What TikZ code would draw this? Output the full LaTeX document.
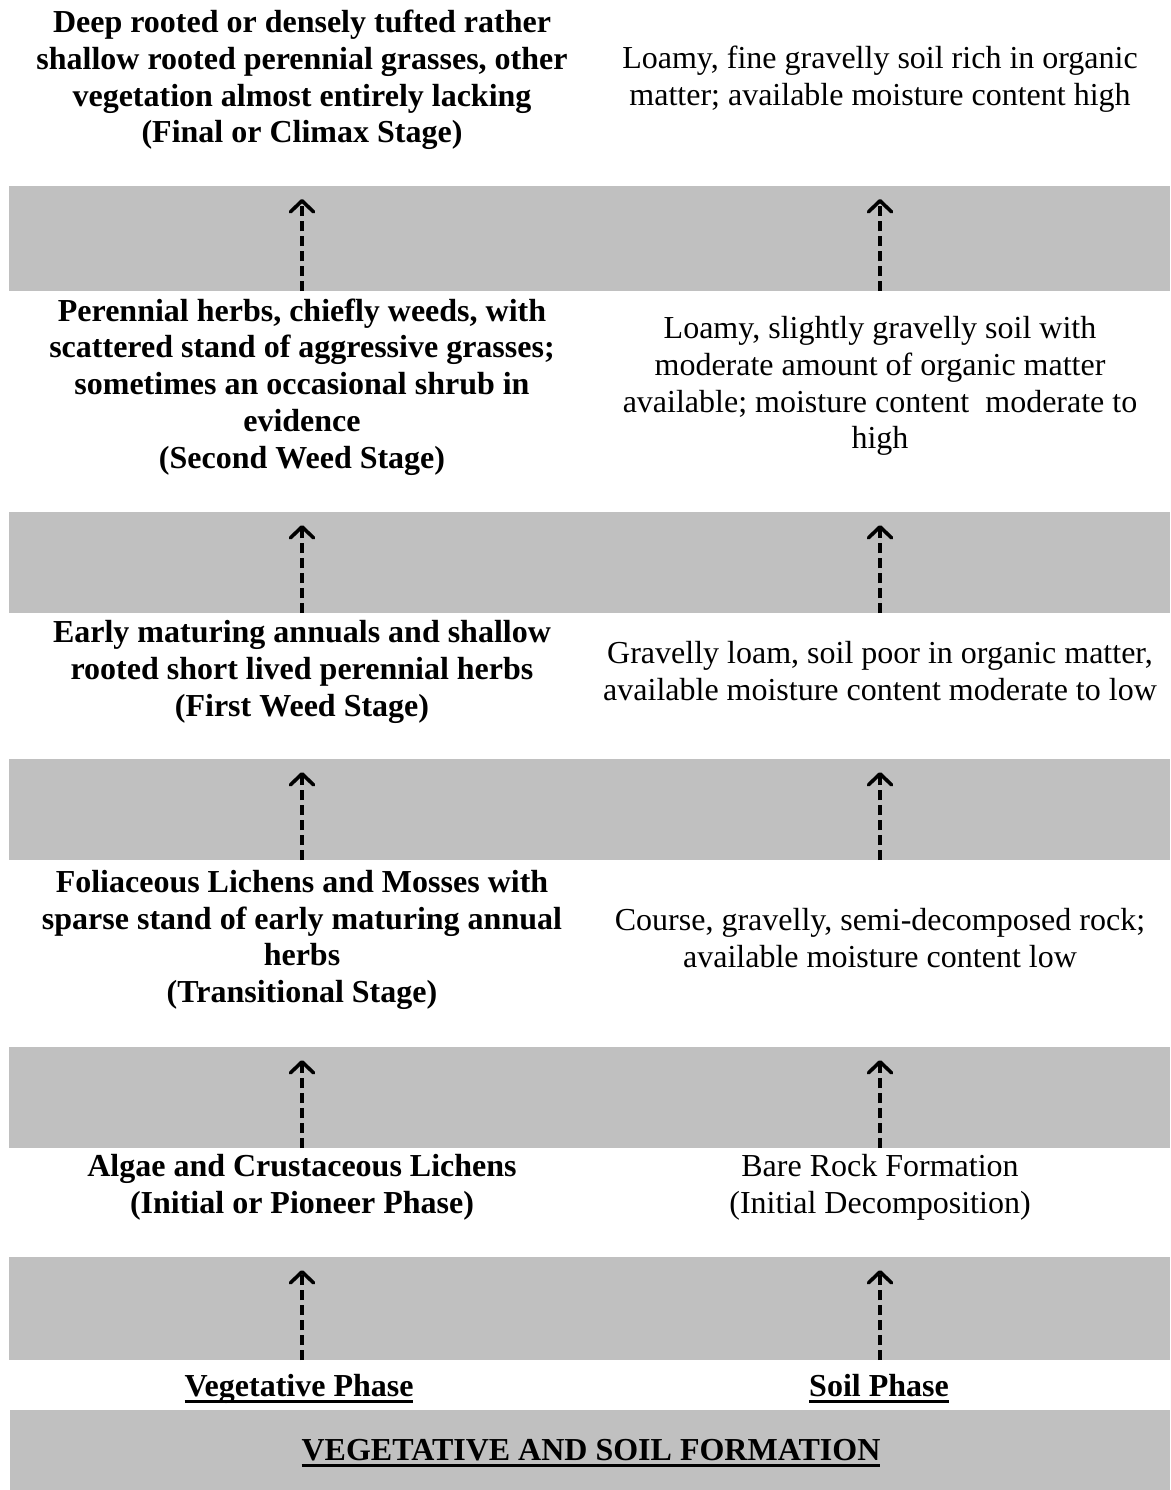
\documentclass[tikz,border=0pt]{standalone}
\usepackage{fontspec}
\setmainfont{Liberation Serif}
\usetikzlibrary{arrows.meta}
\definecolor{bandgray}{RGB}{192,192,192}
\newcommand{\myul}[1]{\setbox0\hbox{#1}\rlap{\rule[-7pt]{\wd0}{3.2pt}}\box0}
\begin{document}
\begin{tikzpicture}[x=1pt,y=-1pt,
  band/.style={fill=bandgray,draw=none},
  vtext/.style={align=center,font=\fontsize{32}{36.8}\selectfont\bfseries,inner sep=0pt},
  stext/.style={align=center,font=\fontsize{32}{36.8}\selectfont,inner sep=0pt},
  uparrow/.style={line width=3.6pt,dash pattern=on 10pt off 5pt,
    -{Straight Barb[length=11pt,width=23pt,line width=3.6pt,round]}}]
\useasboundingbox[fill=white] (0,0) rectangle (1170,1490);
% bands
\fill[band] (9,186) rectangle (1170,291);
\fill[band] (9,512) rectangle (1170,613);
\fill[band] (9,759) rectangle (1170,860);
\fill[band] (9,1047) rectangle (1170,1148);
\fill[band] (9,1257) rectangle (1170,1360);
\fill[band] (10,1410) rectangle (1170,1490);
% texts
\node[vtext] (v6) at (302,80) {Deep rooted or densely tufted rather\\shallow rooted perennial grasses, other\\vegetation almost entirely lacking\\(Final or Climax Stage)};
\node[stext] (s6) at (880,79) {Loamy, fine gravelly soil rich in organic\\matter; available moisture content high};
\node[vtext] (v5) at (302,387) {Perennial herbs, chiefly weeds, with\\scattered stand of aggressive grasses;\\sometimes an occasional shrub in\\evidence\\(Second Weed Stage)};
\node[stext] (s5) at (880,386) {Loamy, slightly gravelly soil with\\moderate amount of organic matter\\available; moisture content\ \ moderate to\\high};
\node[vtext] (v4) at (302,672) {Early maturing annuals and shallow\\rooted short lived perennial herbs\\(First Weed Stage)};
\node[stext] (s4) at (880,671) {Gravelly loam, soil poor in organic matter,\\available moisture content moderate to low};
\node[vtext] (v3) at (302,940) {Foliaceous Lichens and Mosses with\\sparse stand of early maturing annual\\herbs\\(Transitional Stage)};
\node[stext] (s3) at (880,938) {Course, gravelly, semi-decomposed rock;\\available moisture content low};
\node[vtext] (v2) at (302,1187) {Algae and Crustaceous Lichens\\(Initial or Pioneer Phase)};
\node[stext] (s2) at (880,1187) {Bare Rock Formation\\(Initial Decomposition)};
\node[vtext,anchor=base] (v1) at (299,1396) {\myul{Vegetative Phase}};
\node[vtext,anchor=base] (s1) at (879,1396) {\myul{Soil Phase}};
\node[vtext,anchor=base] (title) at (591,1460) {\myul{VEGETATIVE AND SOIL FORMATION}};
% arrow endpoints
\coordinate (va1) at (302,1360); \coordinate (vb1) at (302,1270);
\coordinate (sa1) at (880,1360); \coordinate (sb1) at (880,1270);
\coordinate (va2) at (302,1148); \coordinate (vb2) at (302,1060);
\coordinate (sa2) at (880,1148); \coordinate (sb2) at (880,1060);
\coordinate (va3) at (302,860); \coordinate (vb3) at (302,772);
\coordinate (sa3) at (880,860); \coordinate (sb3) at (880,772);
\coordinate (va4) at (302,613); \coordinate (vb4) at (302,525);
\coordinate (sa4) at (880,613); \coordinate (sb4) at (880,525);
\coordinate (va5) at (302,291); \coordinate (vb5) at (302,199);
\coordinate (sa5) at (880,291); \coordinate (sb5) at (880,199);
\foreach \i in {1,...,5}{
  \draw[uparrow] (va\i) -- (vb\i);
  \draw[uparrow] (sa\i) -- (sb\i);
}
\end{tikzpicture}
\end{document}
